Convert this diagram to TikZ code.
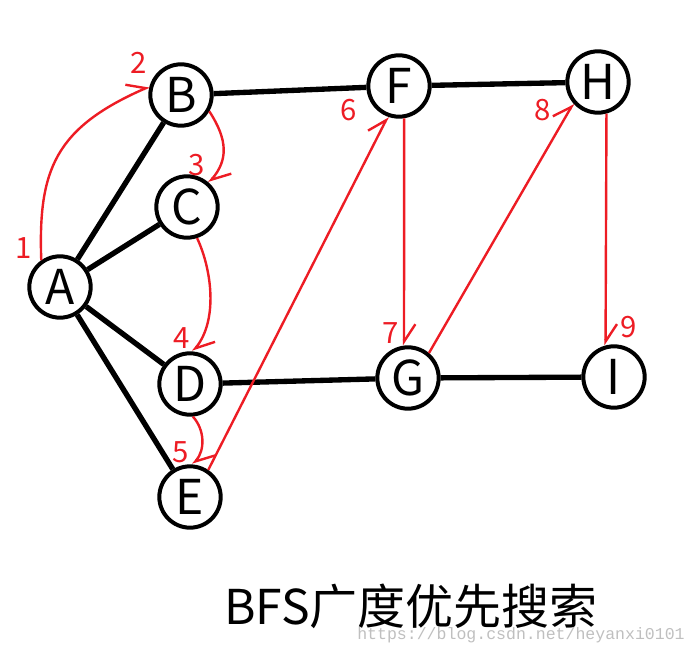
\documentclass[tikz,border=0pt]{standalone}
\usepackage{fontspec}
\setmainfont{Noto Sans}
\newfontfamily\cjk{Noto Sans CJK SC}
\newfontfamily\wmfont{Liberation Mono}
\usetikzlibrary{arrows.meta}
\definecolor{bfsred}{RGB}{237,28,36}
\begin{document}
\begin{tikzpicture}
      [x=0.75pt,y=-0.75pt,every node/.style={circle,fill=white,draw=black,line width=3pt,minimum size=46pt,inner sep=0pt,font=\cjk\fontsize{36}{36}\selectfont},
       num/.style={draw=none,fill=none,minimum size=0pt,text=bfsred,font=\cjk\fontsize{22}{22}\selectfont},
       visit/.style={draw=bfsred,line width=1.8pt,-{Straight Barb[left,length=13pt,width=17pt]}}]
      \useasboundingbox (0,0) rectangle (698,652);
      \node (A) at (60,287) {A};
      \node (B) at (181,95) {B};
      \node (C) at (187,207) {C};
      \node (D) at (190,384) {D};
      \node (E) at (190,497) {E};
      \node (F) at (399,86) {F};
      \node (G) at (408,378) {G};
      \node (H) at (598,82) {H};
      \node (I) at (614,377) {I};

      \foreach \from/\to in {A/B,A/C,A/D,A/E,B/F,F/H,D/G,G/I}
      \draw[line width=4pt] (\from) -- (\to);

      % visiting order
      \draw[visit] (A.125) .. controls (38,170) and (55,128) .. (B.165);
      \draw[visit] (B.-30) .. controls (228,140) and (228,160) .. (C.48);
      \draw[visit] (C.-72) .. controls (212,270) and (218,320) .. (D.85);
      \draw[visit] (D.-85) .. controls (205,430) and (205,450) .. (E.85);
      \draw[visit] (E.56) -- (F.-110);
      \draw[visit] (F.-81) -- (G.97);
      \draw[visit] (G.50) -- (H.-139);
      \draw[visit] (H.-75) -- (I.105);

      \node[num] (n1) at (24,248) {1};
      \node[num] (n2) at (139,63) {2};
      \node[num] (n3) at (197,165) {3};
      \node[num] (n4) at (182,338) {4};
      \node[num] (n5) at (181,452) {5};
      \node[num] (n6) at (349,110) {6};
      \node[num] (n7) at (391,333) {7};
      \node[num] (n8) at (543,110) {8};
      \node[num] (n9) at (629,327) {9};

      \node[draw=none, fill=none, font=\cjk\fontsize{36}{36}\selectfont] (title) at (411,606) {BFS广度优先搜索};
      \node[draw=none, fill=none, text=black!25, font=\wmfont\fontsize{12.4}{12.4}\selectfont] (mark) at (521,635) {https://blog.csdn.net/heyanxi0101};
\end{tikzpicture}
\end{document}
